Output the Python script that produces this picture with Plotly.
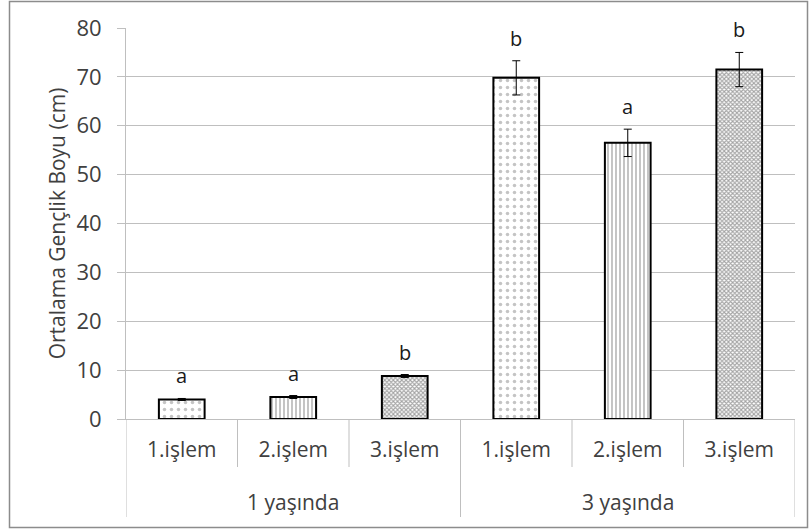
import plotly.graph_objects as go

groups = ["1 yaşında", "1 yaşında", "1 yaşında", "3 yaşında", "3 yaşında", "3 yaşında"]
treatments = ["1.işlem", "2.işlem", "3.işlem", "1.işlem", "2.işlem", "3.işlem"]
means = [4.0, 4.5, 8.8, 69.8, 56.5, 71.5]
errors = [0.2, 0.3, 0.3, 3.5, 2.8, 3.5]
letters = ["a", "a", "b", "b", "a", "b"]
y_ticks = [0, 10, 20, 30, 40, 50, 60, 70, 80]

patterns = [".", "|", "x", ".", "|", "x"]
pat_size = [7, 4, 3, 7, 4, 3]
pat_solid = [0.2, 0.3, 0.6, 0.2, 0.3, 0.6]
pat_color = ["#8a8a8a", "#3a3a3a", "#4a4a4a", "#8a8a8a", "#3a3a3a", "#4a4a4a"]

W, H = 811, 530
ml, mr, mt, mb = 126, 16, 28, 111
pw, ph = W - ml - mr, H - mt - mb
grid = "#bfbfbf"
font = "Open Sans"
tcol = "#404040"

pos = list(range(len(treatments)))

fig = go.Figure()
fig.add_trace(go.Bar(
    x=pos, y=means,
    marker=dict(color="white", line=dict(color="black", width=2),
                pattern=dict(shape=patterns, size=pat_size, solidity=pat_solid,
                             fgcolor=pat_color, bgcolor="white", fillmode="overlay")),
    error_y=dict(type="data", array=errors, color="black", thickness=1, width=4),
    width=0.41, showlegend=False,
))

# significance letters above error bars
for i, (m, e, t) in enumerate(zip(means, errors, letters)):
    fig.add_annotation(x=i, y=m + e, text=t, showarrow=False, yanchor="bottom",
                       yshift=7, font=dict(family=font, size=20, color="#1a1a1a"))

# group labels
seen = []
for g in groups:
    if g not in seen:
        seen.append(g)
for g in seen:
    idx = [i for i, gg in enumerate(groups) if gg == g]
    fig.add_annotation(x=sum(idx) / len(idx), y=-(502 - (mt + ph)) / ph, yref="paper",
                       text=g, showarrow=False, yanchor="middle",
                       font=dict(family=font, size=21, color=tcol))

# category separators and group dividers
for b in range(len(pos) + 1):
    xb = b - 0.5
    is_group = b == 0 or b == len(pos) or groups[b] != groups[b - 1]
    depth = 98 if is_group else 48
    fig.add_shape(type="line", xref="x", yref="paper", x0=xb, x1=xb,
                  y0=0, y1=-depth / ph, line=dict(color=grid, width=1))

fig.update_layout(
    width=W, height=H,
    margin=dict(l=ml, r=mr, t=mt, b=mb, autoexpand=False),
    paper_bgcolor="white", plot_bgcolor="white",
    font=dict(family=font, size=21, color=tcol),
    xaxis=dict(range=[-0.5, len(pos) - 0.5], tickvals=pos, ticktext=treatments,
               showgrid=False, zeroline=False, showline=True, linecolor=grid,
               linewidth=1, ticks="", ticklabelstandoff=12,
               tickfont=dict(family=font, size=21, color=tcol)),
    yaxis=dict(range=[0, 80], tickvals=y_ticks, showgrid=True, gridcolor=grid,
               gridwidth=1, showline=True, linecolor=grid, ticks="outside",
               ticklen=8, tickcolor=grid, zeroline=False, ticklabelstandoff=11,
               tickfont=dict(family=font, size=22, color=tcol),
               title=dict(text="Ortalama Gençlik Boyu (cm)", standoff=5,
                          font=dict(family=font, size=21, color=tcol))),
)

# outer chart border
fig.add_shape(type="rect", xref="paper", yref="paper",
              x0=(9.5 - ml) / pw, x1=(807.5 - ml) / pw,
              y0=-(527.5 - mt - ph) / ph, y1=1 + (mt - 1.5) / ph,
              line=dict(color="#8c8c8c", width=1.5), layer="below")

fig.write_html("out.html", post_script="document.body.style.margin='0';",
               config={"displayModeBar": False})
